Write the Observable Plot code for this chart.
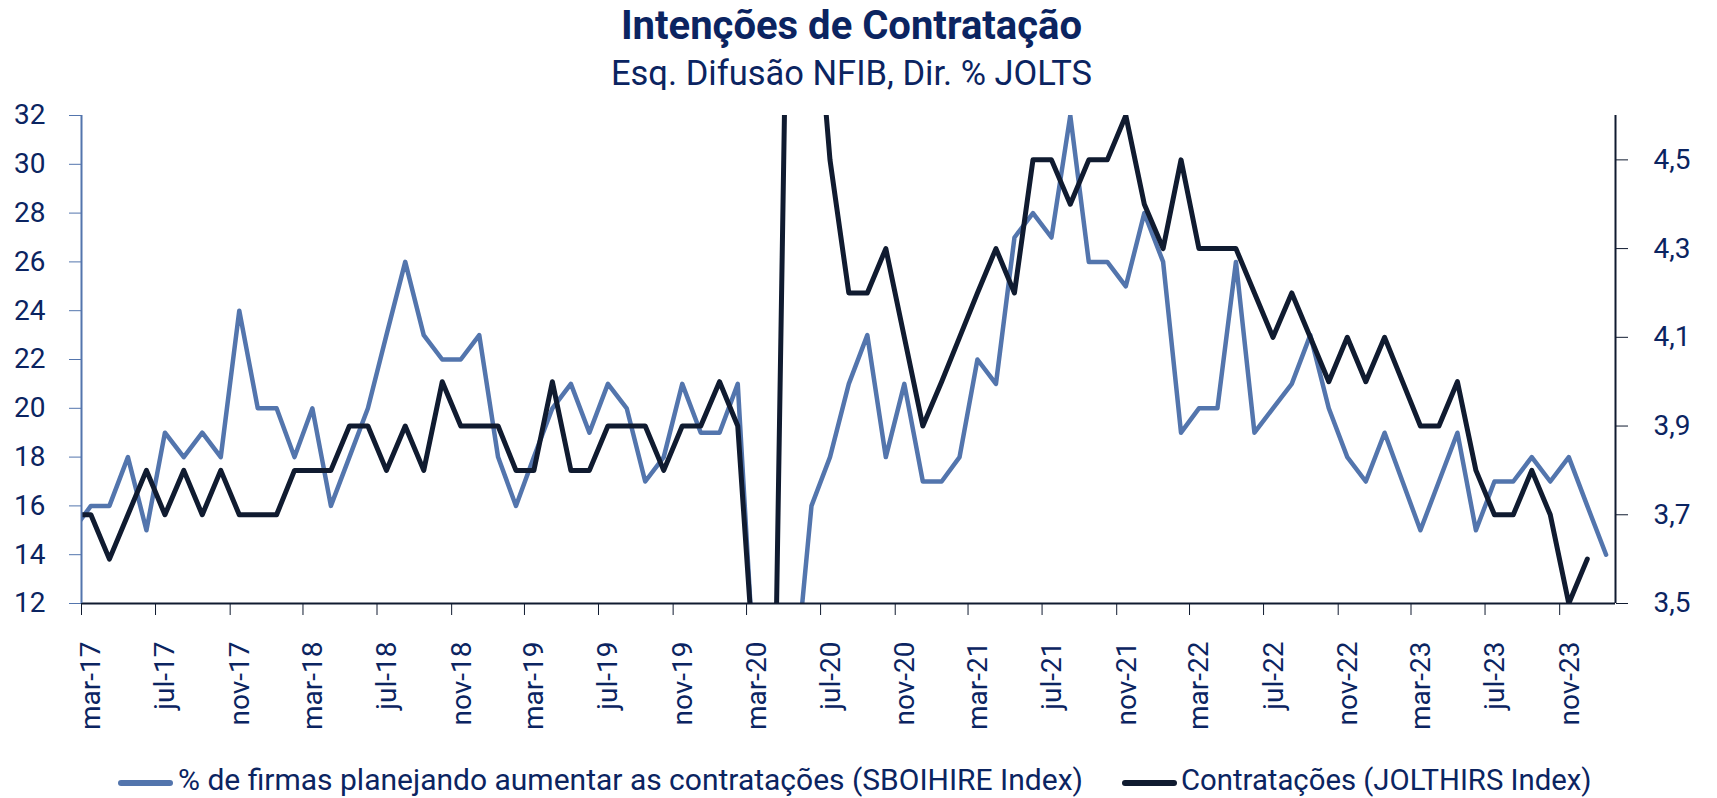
<!DOCTYPE html>
<html><head><meta charset="utf-8">
<script src="https://cdn.jsdelivr.net/npm/d3@7"></script>
<script src="https://cdn.jsdelivr.net/npm/@observablehq/plot@0.6"></script>
<style>
body{margin:0;background:#fff;font-family:Roboto,"Noto Sans",sans-serif;color:#0B2461;}
#wrap{position:relative;width:1717px;height:798px;overflow:hidden;}
#title{position:absolute;left:0;width:1703px;top:6px;text-align:center;font-size:40px;font-weight:700;line-height:1;}
#subtitle{position:absolute;left:0;width:1703px;top:56px;text-align:center;font-size:34.5px;line-height:1;}
#chart{position:absolute;left:0;top:90px;}
.leg{position:absolute;top:765px;font-size:30px;line-height:1;white-space:nowrap;}
.sw{position:absolute;height:6px;border-radius:3px;}
</style></head><body>
<div id="wrap">
  <div id="title">Intenções de Contratação</div>
  <div id="subtitle">Esq. Difusão NFIB, Dir. % JOLTS</div>
  <div id="chart"></div>
  <div class="sw" style="left:118px;top:780px;width:55px;background:#5375AD"></div>
  <div class="leg" id="leg1" style="left:178px"></div>
  <div class="sw" style="left:1122px;top:780px;width:55px;background:#101B30"></div>
  <div class="leg" id="leg2" style="left:1181px;font-size:29.3px;top:766px"></div>
</div>
<script>
// Series names
const seriesNames = ["% de firmas planejando aumentar as contratações (SBOIHIRE Index)", "Contratações (JOLTHIRS Index)"];
// Monthly categories start at Feb-2017 (first point lies just left of the axis and is clipped)
const firstMonth = [2017, 1];
// NFIB: % of firms planning to increase hiring (left axis), Feb-17 .. Jan-24
const nfib = [15,
  16,16,18,15,19,18,19,18,24,20,
  20,18,20,16,18,20,23,26,23,22,22,23,
  18,16,18,20,21,19,21,20,17,18,21,19,
  19,21,8,1,8,16,18,21,23,18,21,17,
  17,18,22,21,27,28,27,32,26,26,25,28,
  26,19,20,20,26,19,20,21,23,20,18,17,
  19,17,15,17,19,15,17,17,18,17,18,16,
  14];
// JOLTS hires rate % (right axis), Feb-17 .. Dec-23
const jolts = [3.7,
  3.7,3.6,3.7,3.8,3.7,3.8,3.7,3.8,3.7,3.7,
  3.7,3.8,3.8,3.8,3.9,3.9,3.8,3.9,3.8,4.0,3.9,3.9,
  3.9,3.8,3.8,4.0,3.8,3.8,3.9,3.9,3.9,3.8,3.9,3.9,
  4.0,3.9,3.3,3.2,5.8,5.0,4.5,4.2,4.2,4.3,4.1,3.9,
  4.0,4.1,4.2,4.3,4.2,4.5,4.5,4.4,4.5,4.5,4.6,4.4,
  4.3,4.5,4.3,4.3,4.3,4.2,4.1,4.2,4.1,4.0,4.1,4.0,
  4.1,4.0,3.9,3.9,4.0,3.8,3.7,3.7,3.8,3.7,3.5,3.6];
// Axis ticks
const leftTicks = [12,14,16,18,20,22,24,26,28,30,32];
const rightTicks = [3.5,3.7,3.9,4.1,4.3,4.5];
const monthNames = ["jan","fev","mar","abr","mai","jun","jul","ago","set","out","nov","dez"];
const leftDomain = [12, 32];
const rightDomain = [3.5, 4.6];
const xStart = new Date(Date.UTC(2017, 2, 1));
const xEnd = new Date(Date.UTC(2024, 1, 1));

const BLUE = "#5375AD", DARK = "#101B30", NAVY = "#0B2461";

const toLeft = v => leftDomain[0] + (v - rightDomain[0]) * (leftDomain[1] - leftDomain[0]) / (rightDomain[1] - rightDomain[0]);
const fromLeft = v => rightDomain[0] + (v - leftDomain[0]) * (rightDomain[1] - rightDomain[0]) / (leftDomain[1] - leftDomain[0]);

function midMonth(i) {
  const s = new Date(Date.UTC(firstMonth[0], firstMonth[1] + i, 1));
  const e = new Date(Date.UTC(firstMonth[0], firstMonth[1] + i + 1, 1));
  return new Date((+s + +e) / 2);
}
const nfibData = nfib.map((v, i) => ({date: midMonth(i), v}));
const joltsData = jolts.map((v, i) => ({date: midMonth(i), v}));
const xTicks = d3.utcMonths(xStart, xEnd, 4);
const fmtMonth = d => monthNames[d.getUTCMonth()] + "-" + String(d.getUTCFullYear() % 100).padStart(2, "0");

document.getElementById("leg1").textContent = seriesNames[0];
document.getElementById("leg2").textContent = seriesNames[1];

const chart = Plot.plot({
  width: 1717, height: 650,
  marginLeft: 81, marginRight: 102, marginTop: 25, marginBottom: 137,
  x: {type: "utc", domain: [xStart, xEnd]},
  y: {domain: leftDomain},
  style: {fontFamily: "Roboto, 'Noto Sans', sans-serif", fontSize: "28px", background: "white", color: NAVY},
  marks: [
    Plot.axisY({ticks: leftTicks, tickSize: 12, tickPadding: 24, stroke: BLUE, fill: NAVY, label: null, fontSize: 28}),
    Plot.axisY({anchor: "right", ticks: rightTicks.map(toLeft), tickFormat: d => d3.format(".1f")(fromLeft(d)).replace(".", ","), tickSize: 12, tickPadding: 26, stroke: DARK, fill: NAVY, label: null, fontSize: 28}),
    Plot.axisX({ticks: xTicks, tickFormat: () => "", tickSize: 12, stroke: DARK, label: null}),
    Plot.axisX({ticks: xTicks, tickFormat: fmtMonth, tickRotate: -90, tickSize: 0, tickPadding: 38, dx: 10, fill: NAVY, label: null, fontSize: 28}),
    Plot.lineY(nfibData, {x: "date", y: "v", stroke: BLUE, strokeWidth: 4.5, strokeLinejoin: "round", strokeLinecap: "round", clip: true}),
    Plot.lineY(joltsData, {x: "date", y: d => toLeft(d.v), stroke: DARK, strokeWidth: 5, strokeLinejoin: "round", strokeLinecap: "round", clip: true}),
    Plot.ruleY([leftDomain[0]], {stroke: DARK, strokeWidth: 2}),
    Plot.ruleX([xEnd], {stroke: DARK, strokeWidth: 2}),
    Plot.ruleX([xStart], {stroke: BLUE, strokeWidth: 2})
  ]
});
document.getElementById("chart").appendChild(chart);
</script>
</body></html>
